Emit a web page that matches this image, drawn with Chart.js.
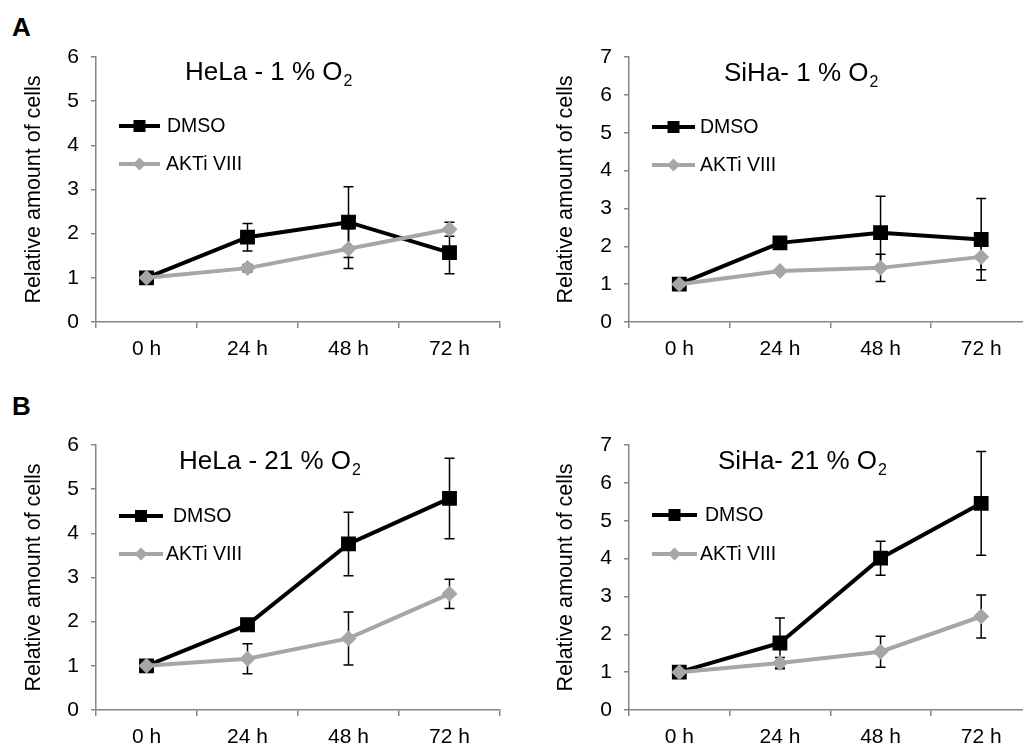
<!DOCTYPE html>
<html>
<head>
<meta charset="utf-8">
<script src="https://cdn.jsdelivr.net/npm/chart.js@4/dist/chart.umd.min.js"></script>
<style>
  html, body { margin:0; padding:0; background:#fff; width:1023px; height:744px; overflow:hidden; position:relative; }
  canvas { position:absolute; }
  .lbl { position:absolute; font:bold 26px "Liberation Sans", Arial, sans-serif; color:#000; }
</style>
</head>
<body>
<div class="lbl" style="left:12px;top:12px">A</div>
<div class="lbl" style="left:12px;top:391px">B</div>
<canvas id="c1" width="512" height="372" style="left:0;top:0"></canvas>
<canvas id="c2" width="530" height="372" style="left:512px;top:0"></canvas>
<canvas id="c3" width="512" height="372" style="left:0;top:372px"></canvas>
<canvas id="c4" width="530" height="372" style="left:512px;top:372px"></canvas>
<script>
const hours = ['0 h', '24 h', '48 h', '72 h'];
const seriesNames = ['DMSO', 'AKTi VIII'];

// HeLa, 1 % O2
const helaHypoDmso = [1, 1.92, 2.26, 1.57];
const helaHypoDmsoErr = [0, 0.31, 0.8, 0.48];
const helaHypoAkti = [1, 1.22, 1.66, 2.1];
const helaHypoAktiErr = [0, 0.08, 0.45, 0.16];
// SiHa, 1 % O2
const sihaHypoDmso = [1, 2.09, 2.36, 2.18];
const sihaHypoDmsoErr = [0, 0.05, 0.96, 1.08];
const sihaHypoAkti = [1, 1.35, 1.43, 1.72];
const sihaHypoAktiErr = [0, 0.05, 0.36, 0.34];
// HeLa, 21 % O2
const helaNormDmso = [1, 1.93, 3.76, 4.79];
const helaNormDmsoErr = [0, 0.05, 0.72, 0.91];
const helaNormAkti = [1, 1.16, 1.62, 2.63];
const helaNormAktiErr = [0, 0.34, 0.6, 0.33];
// SiHa, 21 % O2
const sihaNormDmso = [1, 1.77, 4.01, 5.46];
const sihaNormDmsoErr = [0, 0.66, 0.45, 1.37];
const sihaNormAkti = [1, 1.24, 1.54, 2.47];
const sihaNormAktiErr = [0, 0.15, 0.41, 0.57];

const FONT = '"Liberation Sans", Arial, sans-serif';
const AXIS = '#868686';
const GREY = '#a6a6a6';

const errorBars = {
  id: 'errorBars',
  beforeDatasetsDraw(chart){
    const {ctx, scales:{y}} = chart;
    ctx.save();
    ctx.strokeStyle = '#000';
    ctx.lineWidth = 1.5;
    chart.data.datasets.forEach((ds, di) => {
      const meta = chart.getDatasetMeta(di);
      ds.err.forEach((e, i) => {
        if(!e) return;
        const x = meta.data[i].x;
        const t = y.getPixelForValue(ds.data[i] + e), b = y.getPixelForValue(ds.data[i] - e);
        ctx.beginPath();
        ctx.moveTo(x, t); ctx.lineTo(x, b);
        ctx.moveTo(x - 5, t); ctx.lineTo(x + 5, t);
        ctx.moveTo(x - 5, b); ctx.lineTo(x + 5, b);
        ctx.stroke();
      });
    });
    ctx.restore();
  }
};

const panelText = {
  id: 'panelText',
  afterDraw(chart){
    const o = chart.options.plugins.panelText;
    const ctx = chart.ctx;
    ctx.save();
    ctx.fillStyle = '#000';
    ctx.textBaseline = 'alphabetic';
    ctx.font = `26px ${FONT}`;
    ctx.fillText(o.title, o.tx, o.ty);
    const w = ctx.measureText(o.title).width;
    ctx.font = `16px ${FONT}`;
    ctx.fillText('2', o.tx + w + 1, o.ty + 6);
    // legend
    o.legend.forEach((it, k) => {
      ctx.strokeStyle = it.color;
      ctx.lineWidth = 4;
      ctx.beginPath(); ctx.moveTo(o.lx1, it.y); ctx.lineTo(o.lx2, it.y); ctx.stroke();
      const cx = (o.lx1 + o.lx2) / 2;
      ctx.fillStyle = it.color;
      ctx.beginPath();
      if(k === 0){ ctx.rect(cx - 6, it.y - 6, 12, 12); }
      else { ctx.moveTo(cx, it.y - 6.5); ctx.lineTo(cx + 6.5, it.y); ctx.lineTo(cx, it.y + 6.5); ctx.lineTo(cx - 6.5, it.y); ctx.closePath(); }
      ctx.fill();
      ctx.fillStyle = '#000';
      ctx.font = `19.5px ${FONT}`;
      ctx.textBaseline = 'middle';
      ctx.fillText(seriesNames[k], it.tx, it.y + 1);
    });
    ctx.restore();
  }
};

function makePanel(id, p){
  new Chart(document.getElementById(id), {
    type: 'line',
    data: {
      labels: hours,
      datasets: [
        { label: seriesNames[0], data: p.dmso, err: p.dmsoErr, borderColor: '#000', backgroundColor: '#000', borderWidth: 4,
          pointStyle: 'rect', pointRadius: 10.5, pointBorderWidth: 0, order: 1 },
        { label: seriesNames[1], data: p.akti, err: p.aktiErr, borderColor: GREY, backgroundColor: GREY, borderWidth: 4,
          pointStyle: 'rectRot', pointRadius: 8, pointBorderWidth: 0, order: 0 }
      ]
    },
    options: {
      responsive: false,
      animation: false,
      layout: { padding: { top: p.top, right: p.right, left: 0, bottom: 0 } },
      plugins: {
        legend: { display: false },
        tooltip: { enabled: false },
        panelText: p.text
      },
      scales: {
        x: {
          offset: true,
          grid: { offset: true, drawOnChartArea: false, tickLength: 6, color: AXIS, lineWidth: 1.5 },
          border: { color: AXIS, width: 1.5 },
          ticks: { color: '#000', font: { family: FONT, size: 21 }, padding: 9, maxRotation: 0 },
          afterFit(s){ s.height = p.xh; }
        },
        y: {
          min: 0, max: p.ymax,
          grid: { drawOnChartArea: false, tickLength: 5, color: AXIS, lineWidth: 1.5 },
          border: { color: AXIS, width: 1.5 },
          ticks: { stepSize: 1, color: '#000', font: { family: FONT, size: 21 }, padding: 12 },
          title: { display: true, text: 'Relative amount of cells', color: '#000', font: { family: FONT, size: 21.5 }, padding: { top: p.ytp, bottom: 0 } },
          afterFit(s){ s.width = p.yw; }
        }
      }
    },
    plugins: [errorBars, panelText]
  });
}

makePanel('c1', { dmso: helaHypoDmso, dmsoErr: helaHypoDmsoErr, akti: helaHypoAkti, aktiErr: helaHypoAktiErr,
  ymax: 6, top: 57, right: 12, yw: 96, xh: 50, ytp: 21,
  text: { title: 'HeLa - 1 % O', tx: 185, ty: 80, lx1: 119, lx2: 160,
    legend: [{ color: '#000', y: 126, tx: 167 }, { color: GREY, y: 164, tx: 166 }] } });

makePanel('c2', { dmso: sihaHypoDmso, dmsoErr: sihaHypoDmsoErr, akti: sihaHypoAkti, aktiErr: sihaHypoAktiErr,
  ymax: 7, top: 57, right: 10, yw: 117, xh: 50, ytp: 41,
  text: { title: 'SiHa- 1 % O', tx: 212, ty: 81, lx1: 140, lx2: 183,
    legend: [{ color: '#000', y: 127, tx: 188 }, { color: GREY, y: 165, tx: 188 }] } });

makePanel('c3', { dmso: helaNormDmso, dmsoErr: helaNormDmsoErr, akti: helaNormAkti, aktiErr: helaNormAktiErr,
  ymax: 6, top: 73, right: 12, yw: 96, xh: 34, ytp: 21,
  text: { title: 'HeLa - 21 % O', tx: 179, ty: 97, lx1: 119, lx2: 163,
    legend: [{ color: '#000', y: 144, tx: 173 }, { color: GREY, y: 182, tx: 166 }] } });

makePanel('c4', { dmso: sihaNormDmso, dmsoErr: sihaNormDmsoErr, akti: sihaNormAkti, aktiErr: sihaNormAktiErr,
  ymax: 7, top: 73, right: 10, yw: 117, xh: 34, ytp: 41,
  text: { title: 'SiHa- 21 % O', tx: 206, ty: 97, lx1: 140, lx2: 185,
    legend: [{ color: '#000', y: 143, tx: 193 }, { color: GREY, y: 182, tx: 188 }] } });
</script>
</body>
</html>
